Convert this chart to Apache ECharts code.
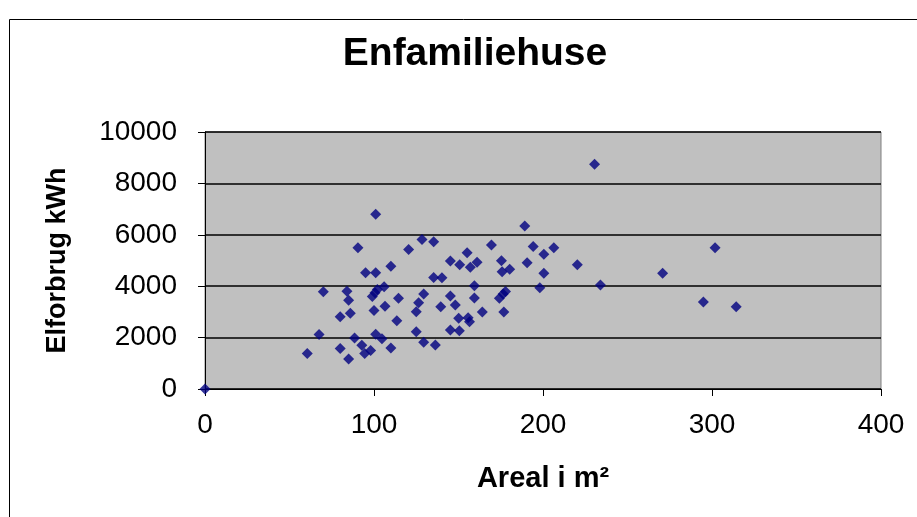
<!DOCTYPE html>
<html>
<head>
<meta charset="utf-8">
<script src="https://cdn.jsdelivr.net/npm/echarts@6/dist/echarts.min.js"></script>
<style>html,body{margin:0;padding:0;background:#fff}#c{width:917px;height:517px}</style>
</head>
<body>
<div id="c"></div>
<script>
var areal = [0,60.5,67.5,70,80,80,84,85,86,85,88.5,90.5,92.8,94.5,95,98,99,100,100.6,101,101,101,102,104.7,106,106.5,110,110,113.5,114.5,120.5,125,125,126.4,128.4,129.4,129.4,135.3,135.3,136.3,139.5,140.2,145.2,145.2,145.2,148.1,150.5,150.1,150.7,155.1,155.7,156.5,157,159.4,159.4,161,164.1,169.5,174.2,175.4,175.8,176.4,176.8,177.8,180.3,189.2,190.6,194.2,198.1,200.5,200.5,206.4,220.3,230.5,234,270.8,294.9,301.8,314.3];
var elforbrug = [0,1380,2120,3780,1580,2810,3800,3450,2950,1170,1980,5500,1700,1380,4520,1500,3600,3050,3750,4520,6800,2130,3870,1960,3980,3220,4780,1600,2660,3530,5430,3010,2230,3360,5820,3700,1820,5730,4340,1710,3200,4330,4980,3620,2300,3270,2270,2750,4830,5300,2770,2620,4740,4020,3540,4930,3000,5600,3530,4990,4560,3700,3000,3790,4660,6340,4910,5540,3940,5240,4500,5500,4830,8750,4050,4500,3390,5500,3200];
var xTicks = [0,100,200,300,400];
var yTicks = [0,2000,4000,6000,8000,10000];
var titleText = 'Enfamiliehuse';
var xName = 'Areal i m²';
var yName = 'Elforbrug kWh';

var pts = areal.map(function(x,i){return [x, elforbrug[i]];});
var chart = echarts.init(document.getElementById('c'), null, {renderer:'canvas'});
var font = '"Liberation Sans", Arial, sans-serif';
chart.setOption({
  backgroundColor:'#fff',
  animation:false,
  title:{text:titleText, left:470, textAlign:'center', top:30,
    textStyle:{fontFamily:font, fontSize:39, fontWeight:'bold', color:'#000'}},
  graphic:[{type:'rect', shape:{x:9.5,y:19.5,width:920,height:520},
    style:{fill:'none', stroke:'#000', lineWidth:1}, z:-1}],
  grid:{left:205, right:36, top:132, bottom:128, show:true, backgroundColor:'#c0c0c0', borderColor:'#808080', borderWidth:1},
  xAxis:{type:'value', min:xTicks[0], max:xTicks[xTicks.length-1], interval:100,
    name:xName, nameLocation:'middle', nameGap:75,
    nameTextStyle:{fontFamily:font, fontSize:29, fontWeight:'bold', color:'#000'},
    axisLine:{show:true, onZero:false, lineStyle:{color:'#000', width:1}},
    axisTick:{show:true, inside:false, length:7, lineStyle:{color:'#000'}},
    axisLabel:{fontFamily:font, fontSize:28, color:'#000', margin:22, formatter:function(v){return String(v);}},
    splitLine:{show:false}},
  yAxis:{type:'value', min:yTicks[0], max:yTicks[yTicks.length-1], interval:2000,
    name:yName, nameLocation:'middle', nameGap:134, nameRotate:90,
    nameTextStyle:{fontFamily:font, fontSize:27, fontWeight:'bold', color:'#000'},
    axisLine:{show:true, onZero:false, lineStyle:{color:'#000', width:1}},
    axisTick:{show:true, inside:false, length:7, lineStyle:{color:'#000'}},
    axisLabel:{fontFamily:font, fontSize:28, color:'#000', margin:28, formatter:function(v){return String(v);}},
    splitLine:{show:true, lineStyle:{color:'#000', width:1.5}}},
  series:[{type:'scatter', data:pts, symbol:'diamond', symbolSize:11,
    itemStyle:{color:'#000080'}}]
});
</script>
</body>
</html>
